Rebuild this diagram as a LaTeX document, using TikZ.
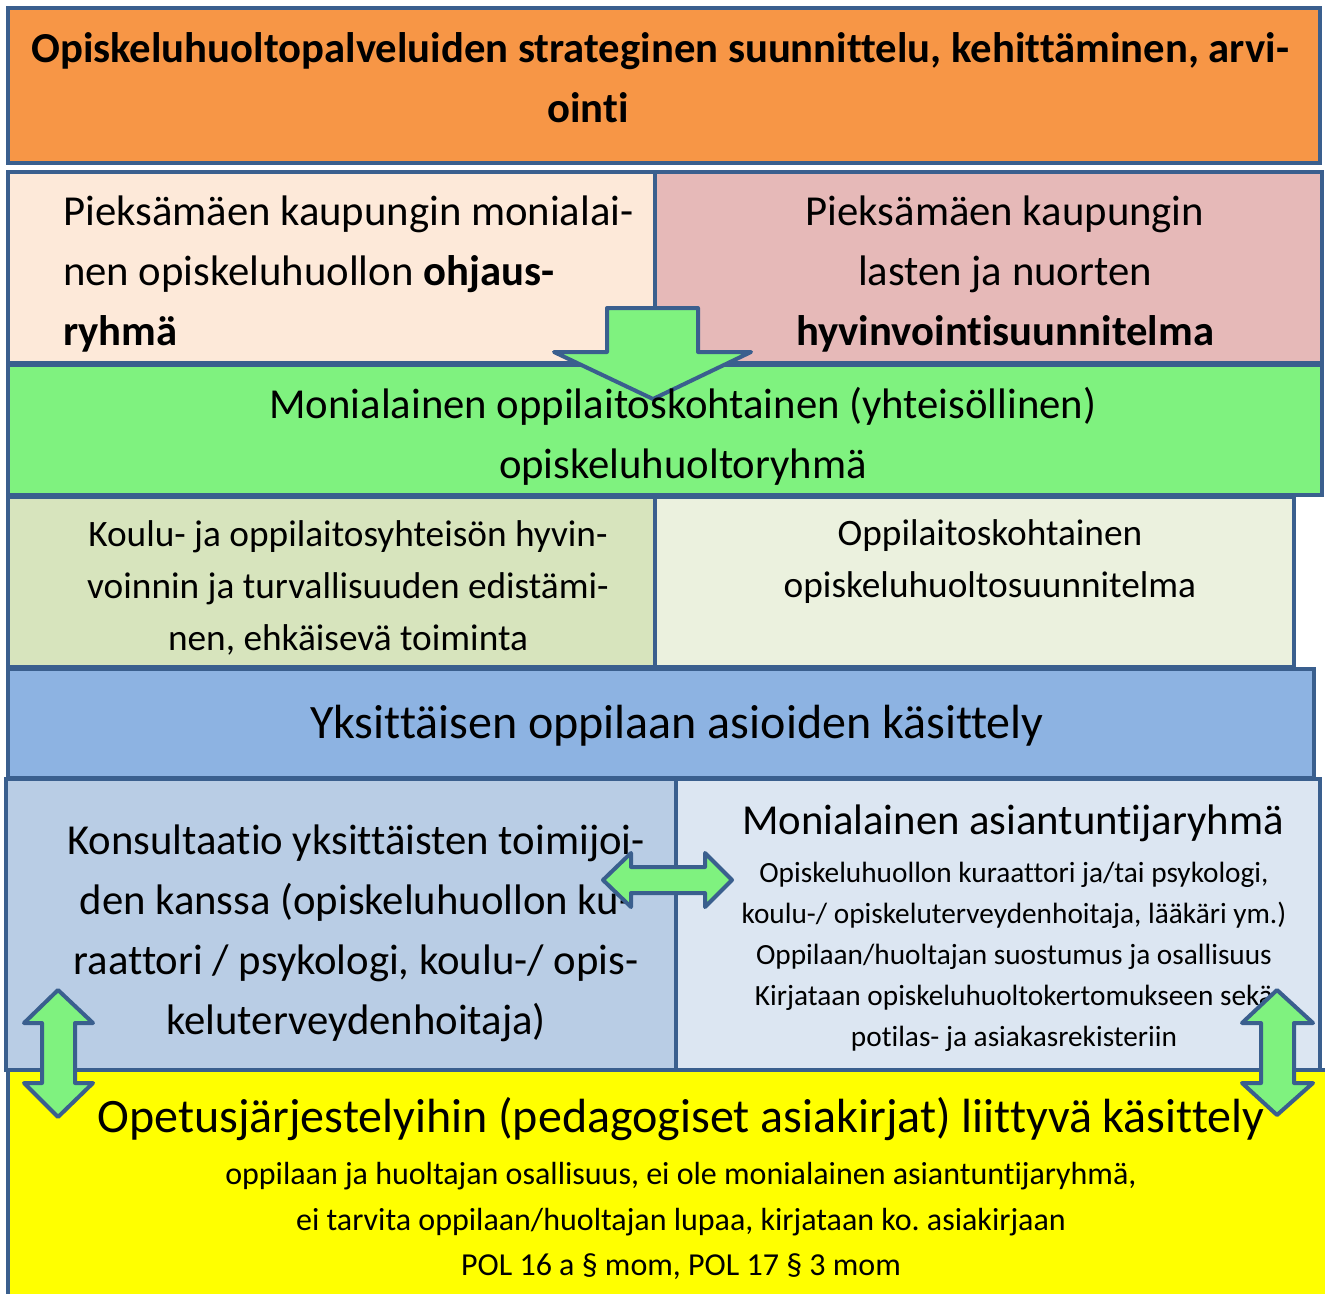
\documentclass[tikz,border=0pt]{standalone}
\usepackage{fontspec}
\setmainfont{Carlito}[Ligatures=NoCommon]
\frenchspacing
\definecolor{ophBorder}{HTML}{3A5F8E}
\definecolor{ophOrange}{HTML}{F79646}
\definecolor{ophPeach}{HTML}{FDE9D9}
\definecolor{ophRose}{HTML}{E6B9B8}
\definecolor{ophGreen}{HTML}{7FF27F}
\definecolor{ophOlive}{HTML}{D7E4BD}
\definecolor{ophPale}{HTML}{EBF1DE}
\definecolor{ophBlue}{HTML}{8DB3E2}
\definecolor{ophSky}{HTML}{B9CDE5}
\definecolor{ophIce}{HTML}{DCE6F2}
\definecolor{ophYellow}{HTML}{FFFF00}
\usepackage{tikz}
\usetikzlibrary{positioning}
\tikzset{
	panel/.style={draw=ophBorder, line width=4pt},
	blockarrow/.style={draw=ophBorder, fill=ophGreen, line width=4pt, line join=round},
	txt/.style={inner sep=0pt, align=center, text=black}
}

\begin{document}
\begin{tikzpicture}[x=1pt,y=-1pt]
		\useasboundingbox (0,0) rectangle (1325,1294);
		% tasot ylhaalta alas
		\draw[panel, fill=ophOrange] (8,8) rectangle (1320,163);
		\draw[panel, fill=ophPeach] (8,172) rectangle (655,363);
		\draw[panel, fill=ophRose] (655,172) rectangle (1322,363);
		\draw[panel, fill=ophGreen] (8,365) rectangle (1322,495);
		\draw[blockarrow] (607,308) -- (698,308) -- (698,352) -- (751,352) -- (653,399) -- (554,352) -- (607,352) -- cycle;
		\draw[panel, fill=ophOlive] (8,497) rectangle (655,667);
		\draw[panel, fill=ophPale] (655,497) rectangle (1294,667);
		\draw[panel, fill=ophBlue] (8,669) rectangle (1314,778);
		\draw[panel, fill=ophSky] (6,779) rectangle (676,1070);
		\draw[panel, fill=ophIce] (676,779) rectangle (1320,1070);
		\fill[ophYellow] (8,1070) rectangle (1325,1294);
		\draw[panel] (1325,1070) -- (8,1070) -- (8,1294);
		% tekstit
		\node[txt, font=\fontsize{42.7}{60}\selectfont\bfseries] (strat) at (660,78) {Opiskeluhuoltopalveluiden strateginen suunnittelu, kehittäminen, arvi-\\\hspace*{-144pt}ointi};
		\node[txt, align=left, anchor=west, font=\fontsize{42.7}{60}\selectfont] (ohjaus) at (63,274) {Pieksämäen kaupungin monialai-\\nen opiskeluhuollon \textbf{ohjaus-}\\\textbf{ryhmä}};
		\node[txt, font=\fontsize{42.7}{60}\selectfont] (hyvsuun) at (1005,274) {Pieksämäen kaupungin\\lasten ja nuorten\\\textbf{hyvinvointisuunnitelma}};
		\node[txt, font=\fontsize{42.7}{60}\selectfont] (yhteis) at (683,436) {Monialainen oppilaitoskohtainen (yhteisöllinen)\\opiskeluhuoltoryhmä};
		\node[txt, font=\fontsize{37.3}{52}\selectfont] (edist) at (348,588) {Koulu- ja oppilaitosyhteisön hyvin-\\voinnin ja turvallisuuden edistämi-\\nen, ehkäisevä toiminta};
		\node[txt, font=\fontsize{37.3}{52}\selectfont] (suunn) at (990,562) {Oppilaitoskohtainen\\opiskeluhuoltosuunnitelma};
		\node[txt, font=\fontsize{48}{60}\selectfont] (yksitt) at (677,726) {Yksittäisen oppilaan asioiden käsittely};
		\node[txt, font=\fontsize{42.7}{60}\selectfont] (konsult) at (356,933) {Konsultaatio yksittäisten toimijoi-\\den kanssa (opiskeluhuollon ku-\\raattori / psykologi, koulu-/ opis-\\keluterveydenhoitaja)};
		\node[txt, font=\fontsize{42.7}{60}\selectfont] (asiant) at (1013,823) {Monialainen asiantuntijaryhmä};
		\node[txt, font=\fontsize{29.3}{41}\selectfont] (asiantx) at (1014,957) {Opiskeluhuollon kuraattori ja/tai psykologi,\\koulu-/ opiskeluterveydenhoitaja, lääkäri ym.)\\Oppilaan/huoltajan suostumus ja osallisuus\\Kirjataan opiskeluhuoltokertomukseen sekä\\potilas- ja asiakasrekisteriin};
		\node[txt, font=\fontsize{48}{60}\selectfont] (opetus) at (681,1119) {Opetusjärjestelyihin (pedagogiset asiakirjat) liittyvä käsittely};
		\node[txt, font=\fontsize{32}{45.5}\selectfont] (opetusx) at (681,1221) {oppilaan ja huoltajan osallisuus, ei ole monialainen asiantuntijaryhmä,\\ei tarvita oppilaan/huoltajan lupaa, kirjataan ko. asiakirjaan\\POL 16 a § mom, POL 17 § 3 mom};
		% nuolet
		\draw[blockarrow] (603,880) -- (631,853) -- (631,867) -- (705,867) -- (705,853) -- (732,880) -- (705,907) -- (705,893) -- (631,893) -- (631,907) -- cycle;
		\draw[blockarrow] (58,990) -- (93,1023) -- (75,1023) -- (75,1083) -- (93,1083) -- (58,1117) -- (24,1083) -- (42,1083) -- (42,1023) -- (24,1023) -- cycle;
		\draw[blockarrow] (1277,990) -- (1313,1023) -- (1294,1023) -- (1294,1083) -- (1313,1083) -- (1277,1115) -- (1242,1083) -- (1261,1083) -- (1261,1023) -- (1242,1023) -- cycle;
	\end{tikzpicture}
\end{document}
